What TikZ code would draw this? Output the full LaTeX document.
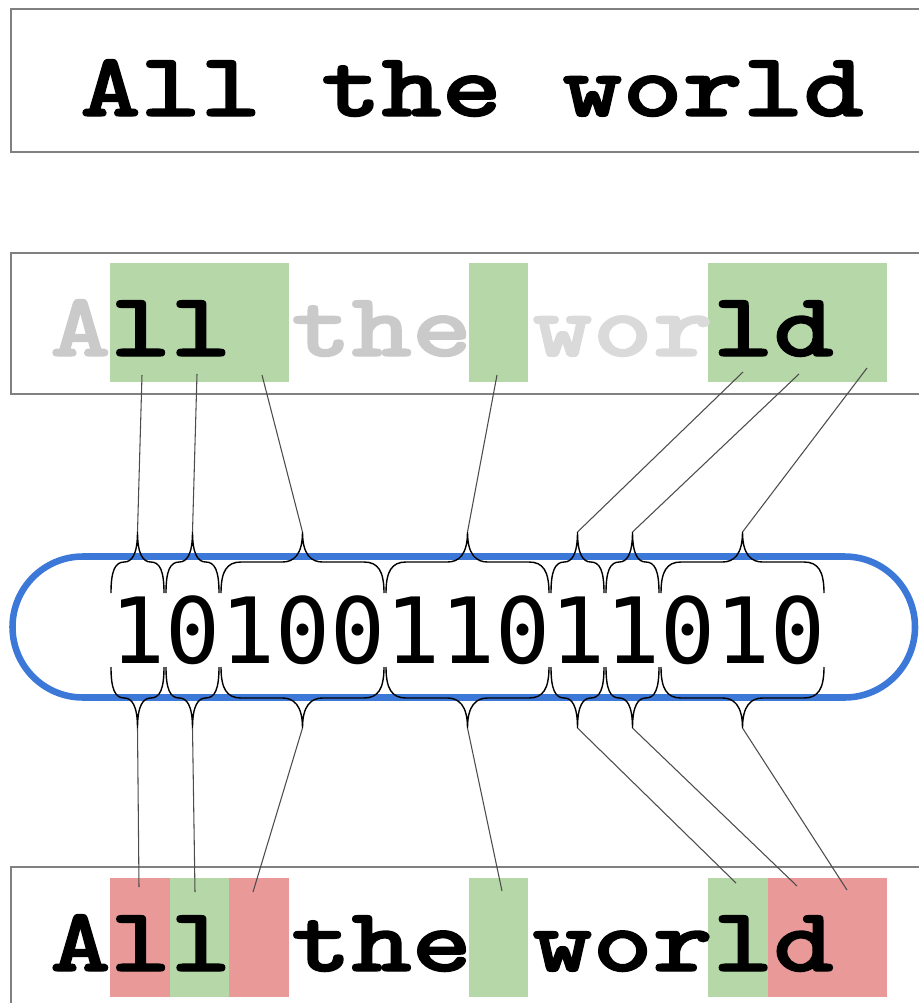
\documentclass[tikz,border=0pt]{standalone}
\usepackage{fontspec}
\newfontfamily\wordfont{lmmonolt10-bold.otf}[FakeStretch=1.266,FakeBold=1.6]
\newfontfamily\bitfont{DejaVu Sans Mono}
\definecolor{keepgreen}{HTML}{B6D7A8}
\definecolor{dropred}{HTML}{EA9999}
\definecolor{pillblue}{HTML}{3C78D8}
\definecolor{fadegray}{HTML}{CACACA}
\definecolor{palegray}{HTML}{DADADA}
\tikzset{
  rowbox/.style={draw=black!50,line width=1.1pt},
  rowtext/.style={anchor=base west,inner sep=0pt,font=\wordfont\fontsize{68pt}{72pt}\selectfont},
  bittext/.style={anchor=base west,inner sep=0pt,font=\bitfont\fontsize{68.5pt}{72pt}\selectfont},
  keep/.style={fill=keepgreen},
  drop/.style={fill=dropred},
  pill/.style={draw=pillblue,line width=4.9pt,rounded corners=52.8pt},
  bitbrace/.style={draw=black,line width=1.05pt},
  link/.style={draw=black!70,line width=.8pt}
}
% curly brace over a group of bits, tip named #1
\newcommand{\curly}[5]{%
  \pgfmathsetmacro{\cbL}{#2+1}
  \pgfmathsetmacro{\cbR}{#3-1}
  \pgfmathsetmacro{\cbM}{(#2+#3)/2}
  \pgfmathsetmacro{\cbC}{min(20,(\cbR-\cbL)/4)}
  \pgfmathsetmacro{\cbH}{#4+(#5)*31}
  \pgfmathsetmacro{\cbT}{#4+(#5)*61}
  \pgfmathsetmacro{\cbE}{#4+(#5)*22}
  \pgfmathsetmacro{\cbK}{#4+(#5)*38}
  \draw[bitbrace] (\cbL,#4) .. controls (\cbL,\cbE) and (\cbL+.3*\cbC,\cbH) .. (\cbL+\cbC,\cbH)
    -- (\cbM-\cbC,\cbH) .. controls (\cbM-.45*\cbC,\cbH) and (\cbM,\cbK) .. (\cbM,\cbT) coordinate (#1)
    .. controls (\cbM,\cbK) and (\cbM+.45*\cbC,\cbH) .. (\cbM+\cbC,\cbH)
    -- (\cbR-\cbC,\cbH) .. controls (\cbR-.3*\cbC,\cbH) and (\cbR,\cbE) .. (\cbR,#4);
}

\begin{document}
\begin{tikzpicture}[x=.75pt,y=-.75pt]
  \useasboundingbox (0,0) rectangle (918,1003);
  % the three rows of words
  \draw[rowbox] (11,9) rectangle (940,152);
  \draw[rowbox] (11,253) rectangle (940,394);
  \draw[rowbox] (11,867) rectangle (940,1020);
  \fill[keep] (110,263) rectangle (289,382);
  \fill[keep] (469,263) rectangle (528,382);
  \fill[keep] (708,263) rectangle (887,382);
  \fill[drop] (110,878) rectangle (170,997);
  \fill[keep] (170,878) rectangle (229,997);
  \fill[drop] (229,878) rectangle (289,997);
  \fill[keep] (469,878) rectangle (528,997);
  \fill[keep] (708,878) rectangle (768,997);
  \fill[drop] (768,878) rectangle (887,997);
  \node[rowtext] (plain) at (80,116) {All the world};
  \node[rowtext] (kept) at (50,356) {\textcolor{fadegray}{A}ll \textcolor{fadegray}{the} \textcolor{palegray}{wor}ld};
  \node[rowtext] (marked) at (50,971) {All the world};
  % the bit string
  \draw[pill] (12.5,556.5) rectangle (915,697.5);
  \node[bittext] (bits) at (110,663) {1010011011010};
  \foreach \g/\l/\r in {a/110/165,b/165/220,c/220/385,d/385/550,e/550/605,f/605/660,g/660/825}{
    \curly{t\g}{\l}{\r}{593}{-1}
    \curly{b\g}{\l}{\r}{667}{1}
  }
  % ends of the links
  \coordinate (ua) at (142,375);
  \coordinate (ub) at (197,374);
  \coordinate (uc) at (262,375);
  \coordinate (ud) at (497,375);
  \coordinate (ue) at (743,372);
  \coordinate (uf) at (799,374);
  \coordinate (ug) at (867,368);
  \coordinate (la) at (139,887);
  \coordinate (lb) at (195,892);
  \coordinate (lc) at (253,892);
  \coordinate (ld) at (502,891);
  \coordinate (le) at (736,883);
  \coordinate (lf) at (797,886);
  \coordinate (lg) at (847,890);
  \foreach \g in {a,b,c,d,e,f,g}{
    \draw[link] (u\g) -- (t\g);
    \draw[link] (b\g) -- (l\g);
  }
\end{tikzpicture}
\end{document}
